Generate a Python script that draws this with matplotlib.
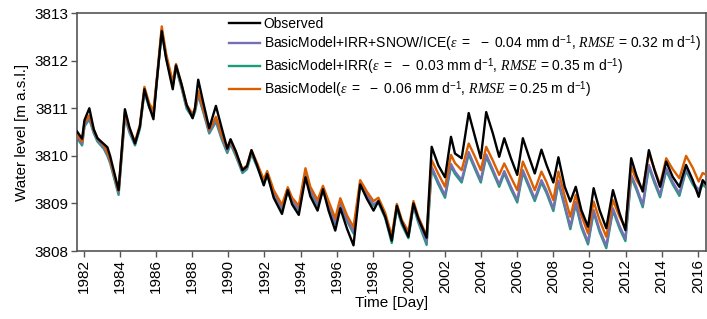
import matplotlib
matplotlib.use("Agg")
import matplotlib.pyplot as plt

plt.rcParams['font.family'] = ['Liberation Sans', 'DejaVu Sans']
plt.rcParams['mathtext.fontset'] = 'custom'
plt.rcParams['mathtext.rm'] = 'Liberation Sans'
plt.rcParams['mathtext.it'] = 'Liberation Serif:italic'
plt.rcParams['mathtext.bf'] = 'Liberation Sans:bold'

# ── data (decimal years / m a.s.l.) ─────────────────────────────────────────
t_year = [
    1981.62, 1981.90, 1982.03, 1982.30, 1982.55, 1982.75, 1983.10, 1983.30, 1983.45, 1983.92,
    1984.27, 1984.52, 1984.83, 1985.10, 1985.35, 1985.62, 1985.85, 1986.03, 1986.31, 1986.55,
    1986.92, 1987.10, 1987.41, 1987.69, 1988.02, 1988.15, 1988.33, 1988.61, 1988.94, 1989.31,
    1989.62, 1989.94, 1990.12, 1990.41, 1990.78, 1991.03, 1991.28, 1991.59, 1991.96, 1992.15,
    1992.51, 1992.97, 1993.29, 1993.53, 1993.90, 1994.27, 1994.54, 1994.94, 1995.24, 1995.55,
    1995.92, 1996.20, 1996.57, 1996.93, 1997.30, 1997.67, 1998.04, 1998.31, 1998.69, 1999.05,
    1999.33, 1999.60, 1999.97, 2000.25, 2000.52, 2000.98, 2001.26, 2001.63, 2002.00, 2002.33,
    2002.55, 2002.92, 2003.31, 2003.66, 2003.98, 2004.28, 2004.65, 2005.00, 2005.28, 2005.65,
    2006.00, 2006.31, 2006.65, 2006.97, 2007.34, 2007.62, 2008.00, 2008.28, 2008.63, 2008.94,
    2009.24, 2009.55, 2009.92, 2010.23, 2010.56, 2010.93, 2011.30, 2011.67, 2011.99, 2012.31,
    2012.59, 2012.95, 2013.29, 2013.60, 2013.91, 2014.25, 2014.61, 2014.98, 2015.35, 2015.72,
    2016.05, 2016.27, 2016.47,
]

observed = [
    3810.51, 3810.36, 3810.75, 3811.00, 3810.55, 3810.37, 3810.25, 3810.18, 3810.00, 3809.28,
    3810.98, 3810.60, 3810.26, 3810.62, 3811.40, 3811.03, 3810.77, 3811.55, 3812.62, 3812.05,
    3811.40, 3811.90, 3811.50, 3811.07, 3810.79, 3811.00, 3811.60, 3811.12, 3810.58, 3811.05,
    3810.60, 3810.15, 3810.35, 3810.10, 3809.70, 3809.78, 3810.12, 3809.80, 3809.38, 3809.62,
    3809.12, 3808.78, 3809.28, 3808.98, 3808.76, 3809.55, 3809.15, 3808.85, 3809.30, 3808.85,
    3808.43, 3808.90, 3808.47, 3808.12, 3809.40, 3809.10, 3808.85, 3809.05, 3808.72, 3808.22,
    3808.95, 3808.62, 3808.30, 3809.00, 3808.68, 3808.28, 3810.19, 3809.80, 3809.55, 3810.40,
    3810.05, 3809.95, 3810.90, 3810.40, 3809.95, 3810.92, 3810.47, 3809.98, 3810.37, 3809.95,
    3809.60, 3810.37, 3809.98, 3809.63, 3810.13, 3809.81, 3809.44, 3809.97, 3809.35, 3809.04,
    3809.35, 3808.86, 3808.51, 3809.32, 3808.86, 3808.48, 3809.28, 3808.79, 3808.44, 3809.95,
    3809.60, 3809.25, 3810.12, 3809.70, 3809.35, 3809.88, 3809.56, 3809.35, 3809.81, 3809.49,
    3809.14, 3809.49, 3809.40,
]

basic = [
    3810.45, 3810.30, 3810.70, 3810.85, 3810.55, 3810.37, 3810.22, 3810.08, 3809.92, 3809.27,
    3810.92, 3810.58, 3810.30, 3810.65, 3811.45, 3811.10, 3810.95, 3811.60, 3812.72, 3812.15,
    3811.55, 3811.93, 3811.50, 3811.07, 3810.88, 3811.00, 3811.36, 3811.00, 3810.55, 3810.82,
    3810.45, 3810.15, 3810.33, 3810.07, 3809.72, 3809.80, 3810.12, 3809.85, 3809.50, 3809.68,
    3809.28, 3808.97, 3809.34, 3809.12, 3808.95, 3809.74, 3809.35, 3809.07, 3809.37, 3809.05,
    3808.69, 3809.11, 3808.75, 3808.50, 3809.49, 3809.25, 3809.05, 3809.12, 3808.80, 3808.32,
    3808.99, 3808.66, 3808.41, 3809.05, 3808.72, 3808.32, 3809.91, 3809.62, 3809.35, 3810.02,
    3809.85, 3809.70, 3810.26, 3809.98, 3809.70, 3810.19, 3809.90, 3809.60, 3809.84, 3809.55,
    3809.28, 3809.88, 3809.58, 3809.28, 3809.67, 3809.45, 3809.07, 3809.67, 3809.15, 3808.72,
    3809.18, 3808.75, 3808.37, 3809.04, 3808.65, 3808.30, 3809.07, 3808.72, 3808.48, 3809.77,
    3809.50, 3809.28, 3810.05, 3809.72, 3809.39, 3809.95, 3809.72, 3809.53, 3810.00, 3809.75,
    3809.46, 3809.64, 3809.60,
]

basic_irr = [
    3810.37, 3810.22, 3810.62, 3810.77, 3810.47, 3810.30, 3810.15, 3810.00, 3809.85, 3809.18,
    3810.82, 3810.49, 3810.22, 3810.57, 3811.34, 3811.01, 3810.85, 3811.52, 3812.62, 3812.07,
    3811.47, 3811.85, 3811.42, 3810.99, 3810.80, 3810.92, 3811.27, 3810.92, 3810.47, 3810.72,
    3810.36, 3810.06, 3810.25, 3810.00, 3809.64, 3809.72, 3810.04, 3809.77, 3809.42, 3809.59,
    3809.19, 3808.87, 3809.25, 3809.02, 3808.85, 3809.62, 3809.24, 3808.95, 3809.27, 3808.94,
    3808.57, 3808.99, 3808.63, 3808.37, 3809.39, 3809.15, 3808.95, 3809.02, 3808.69, 3808.17,
    3808.90, 3808.56, 3808.27, 3808.94, 3808.60, 3808.13, 3809.72, 3809.40, 3809.12, 3809.78,
    3809.62, 3809.44, 3810.03, 3809.72, 3809.44, 3809.98, 3809.66, 3809.35, 3809.63, 3809.30,
    3809.02, 3809.65, 3809.34, 3809.05, 3809.44, 3809.22, 3808.84, 3809.43, 3808.92, 3808.46,
    3808.98, 3808.50, 3808.14, 3808.81, 3808.40, 3808.06, 3808.85, 3808.47, 3808.21, 3809.55,
    3809.30, 3808.92, 3809.76, 3809.43, 3809.13, 3809.69, 3809.40, 3809.16, 3809.69, 3809.40,
    3809.23, 3809.40, 3809.33,
]

basic_irr_snow = [
    3810.40, 3810.25, 3810.65, 3810.80, 3810.50, 3810.33, 3810.18, 3810.03, 3809.88, 3809.22,
    3810.85, 3810.52, 3810.25, 3810.60, 3811.37, 3811.04, 3810.88, 3811.55, 3812.65, 3812.10,
    3811.50, 3811.88, 3811.45, 3811.02, 3810.83, 3810.95, 3811.30, 3810.95, 3810.50, 3810.76,
    3810.40, 3810.10, 3810.28, 3810.03, 3809.67, 3809.75, 3810.07, 3809.80, 3809.45, 3809.62,
    3809.22, 3808.90, 3809.28, 3809.05, 3808.88, 3809.65, 3809.27, 3808.98, 3809.30, 3808.97,
    3808.60, 3809.02, 3808.66, 3808.40, 3809.42, 3809.18, 3808.98, 3809.05, 3808.72, 3808.23,
    3808.94, 3808.60, 3808.32, 3808.98, 3808.64, 3808.19, 3809.77, 3809.45, 3809.17, 3809.83,
    3809.67, 3809.49, 3810.08, 3809.77, 3809.49, 3810.03, 3809.71, 3809.40, 3809.68, 3809.35,
    3809.07, 3809.70, 3809.39, 3809.10, 3809.49, 3809.27, 3808.89, 3809.48, 3808.97, 3808.51,
    3809.03, 3808.55, 3808.19, 3808.86, 3808.45, 3808.11, 3808.90, 3808.52, 3808.26, 3809.60,
    3809.35, 3808.97, 3809.81, 3809.48, 3809.18, 3809.74, 3809.45, 3809.21, 3809.74, 3809.45,
    3809.28, 3809.45, 3809.38,
]

year_ticks = list(range(1982, 2017, 2))
level_ticks = [3808, 3809, 3810, 3811, 3812, 3813]

lab_obs = 'Observed'
lab_full = (r'BasicModel+IRR+SNOW/ICE$(\varepsilon\ =\ \ -$ 0.04 mm d$^{-1}$, '
            r'$RMSE$ = 0.32 m d$^{-1}$)')
lab_irr = (r'BasicModel+IRR$(\varepsilon\ =\ \ -$ 0.03 mm d$^{-1}$, '
           r'$RMSE$ = 0.35 m d$^{-1}$)')
lab_basic = (r'BasicModel$(\varepsilon\ =\ \ -$ 0.06 mm d$^{-1}$, '
             r'$RMSE$ = 0.25 m d$^{-1}$)')

# ── figure ──────────────────────────────────────────────────────────────────
fig = plt.figure(figsize=(7.07, 3.19), dpi=100)
ax = fig.add_axes([0.109, 0.213, 0.890, 0.746])

lw = 1.7
l_irr, = ax.plot(t_year, basic_irr, color='#1b9e77', lw=lw, label=lab_irr, zorder=2)
l_full, = ax.plot(t_year, basic_irr_snow, color='#7570b3', lw=lw, label=lab_full, zorder=3)
l_basic, = ax.plot(t_year, basic, color='#d95f02', lw=lw, label=lab_basic, zorder=4)
l_obs, = ax.plot(t_year, observed, color='black', lw=lw, label=lab_obs, zorder=5)

ax.set_xlim(1981.62, 2016.47)
ax.set_ylim(3808, 3813)
ax.set_xticks(year_ticks)
ax.set_xticklabels([str(y) for y in year_ticks], rotation=90)
ax.set_yticks(level_ticks)
ax.set_yticklabels([str(v) for v in level_ticks])
ax.tick_params(labelsize=11, length=4, width=1, color='#555555', pad=2)

for s in ax.spines.values():
    s.set_color('#555555')
    s.set_linewidth(1.2)

ax.set_xlabel('Time [Day]', fontsize=11, labelpad=2)
ax.set_ylabel('Water level [m a.s.l.]', fontsize=11, labelpad=4)

ax.legend(handles=[l_obs, l_full, l_irr, l_basic], loc='upper left',
          bbox_to_anchor=(0.235, 1.0), frameon=False, fontsize=10,
          handlelength=2.2, handletextpad=0.3, labelspacing=0.15,
          borderaxespad=0.2, borderpad=0.1)

fig.savefig('out.png', dpi=100)
